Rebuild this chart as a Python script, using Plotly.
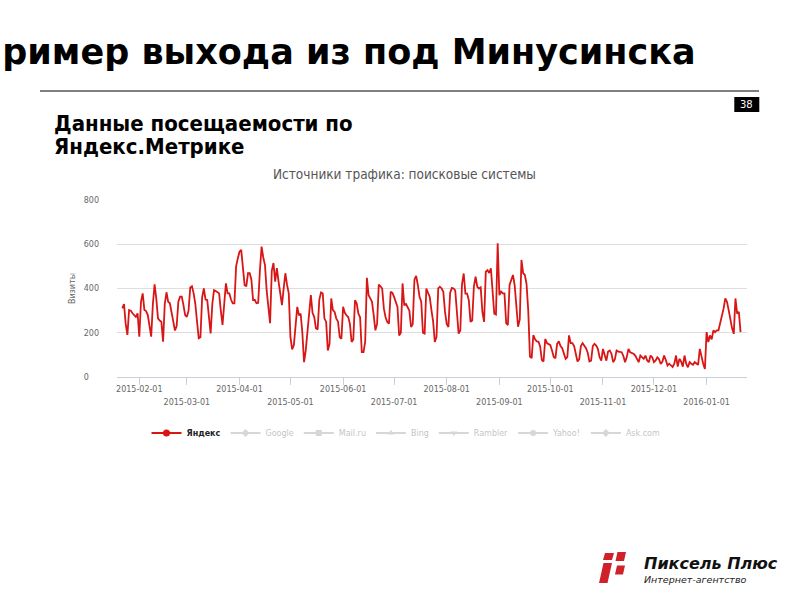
import pandas as pd
import plotly.graph_objects as go

# ---------------- data ----------------
START_DATE = "2015-01-22"
# daily "Яндекс" visits, 2015-01-22 .. 2016-01-21
YANDEX_VISITS = [
    310, 330, 240, 190,
    303, 300, 288, 280, 272, 288, 182,
    340, 378, 303, 298, 280, 230, 182,
    330, 419, 355, 265, 255, 250, 160,
    330, 383, 340, 333, 290, 235, 210,
    230, 340, 363, 363, 325, 280, 272,
    300, 405, 410, 378, 330, 250, 175,
    180, 360, 400, 350, 348, 280, 197,
    330, 393, 389, 385, 378, 300, 235,
    330, 423, 378, 378, 350, 333, 333,
    500, 536, 566, 575, 500, 416, 410,
    469, 469, 440, 348, 348, 333, 335,
    480, 589, 540, 506, 390, 300, 243,
    480, 515, 431, 492, 431, 371, 325,
    400, 469, 416, 378, 180, 125, 144,
    220, 317, 279, 286, 200, 67, 120,
    200, 300, 370, 290, 271, 220, 215,
    350, 382, 377, 264, 250, 120, 150,
    355, 302, 294, 264, 250, 180, 173,
    317, 290, 279, 271, 240, 158, 170,
    347, 332, 286, 270, 112, 112, 160,
    448, 370, 355, 340, 280, 211, 240,
    418, 410, 400, 309, 270, 249, 241,
    385, 380, 362, 340, 317, 188, 200,
    423, 324, 330, 317, 300, 226, 240,
    440, 457, 415, 362, 340, 200, 196,
    400, 380, 362, 302, 250, 158, 181,
    400, 408, 400, 385, 294, 240, 226,
    380, 403, 400, 392, 294, 196, 210,
    420, 468, 377, 377, 347, 249, 255,
    410, 453, 408, 400, 405, 294, 249,
    476, 483, 470, 491, 385, 286, 282,
    604, 370, 386, 378, 378, 243, 235,
    416, 440, 461, 415, 330, 227, 260,
    529, 469, 461, 420, 300, 92, 85,
    190, 170, 161, 160, 138, 77, 70,
    172, 153, 150, 144, 120, 91, 85,
    150, 161, 140, 130, 110, 82, 90,
    188, 153, 153, 140, 108, 70, 80,
    140, 153, 144, 130, 110, 70, 74,
    140, 150, 142, 127, 90, 74, 127,
    100, 74, 115, 120, 105, 67, 80,
    120, 115, 112, 112, 95, 67, 90,
    127, 112, 110, 105, 97, 85, 67,
    97, 90, 82, 97, 75, 67, 97,
    89, 67, 75, 89, 80, 59, 70,
    97, 77, 52, 60, 52, 45, 60,
    97, 47, 82, 70, 47, 97, 60,
    44, 67, 60, 55, 67, 60, 55,
    127, 89, 60, 36, 203, 158, 188,
    170, 211, 203, 211, 211, 240, 280,
    309, 355, 340, 302, 256, 220, 195,
    355, 286, 294, 203,
]
DATES = pd.date_range(START_DATE, periods=len(YANDEX_VISITS), freq="D")

TICK_DATES = ["2015-02-01", "2015-03-01", "2015-04-01", "2015-05-01", "2015-06-01",
              "2015-07-01", "2015-08-01", "2015-09-01", "2015-10-01", "2015-11-01",
              "2015-12-01", "2016-01-01"]
TICK_LABELS = ["2015-02-01", "2015-03-01", "2015-04-01", "2015-05-01", "2015-06-01",
               "2015-07-01", "2015-08-01", "2015-09-01", "2015-10-01", "2015-11-01",
               "2015-12-01", "2016-01-01"]
Y_TICKS = [0, 200, 400, 600, 800]
Y_LABELS = ["0\u2007\u2007", "200", "400", "600", "800"]

LEGEND_NAMES = ["Яндекс", "Google", "Mail.ru", "Bing", "Rambler", "Yahoo!", "Ask.com"]
LEGEND_SYMBOLS = ["circle", "diamond", "square", "triangle-up", "triangle-down", "circle", "diamond"]

X_RANGE = ["2015-01-18 21:00", "2016-01-24 19:00"]

# ---------------- layout helpers (page pixels -> paper) ----------------
L, R, T, B = 117, 53, 200, 223
W, H = 800, 600
PW, PH = W - L - R, H - T - B


def px(x):
    return (x - L) / PW


def py(y):
    return (H - B - y) / PH


RED = "#d81616"
AX = "#c8d0dc"
TXT = "#666666"

fig = go.Figure()
fig.add_trace(go.Scatter(x=DATES, y=YANDEX_VISITS, mode="lines",
                         line=dict(color=RED, width=1.8), showlegend=False,
                         hoverinfo="skip"))

for i, (name, sym) in enumerate(zip(LEGEND_NAMES, LEGEND_SYMBOLS)):
    if i == 0:
        fig.add_trace(go.Scatter(x=[None], y=[None], mode="lines+markers",
                                 name="<b><span style='color:#222'>" + name + "</span></b>",
                                 line=dict(color=RED, width=2),
                                 marker=dict(symbol=sym, size=7, color=RED)))
    else:
        fig.add_trace(go.Scatter(x=[None], y=[None], mode="lines+markers", name=name,
                                 visible="legendonly",
                                 line=dict(color="#b0b0b0", width=2),
                                 marker=dict(symbol=sym, size=6, color="#b0b0b0")))

lower_vals = TICK_DATES[1::2]
lower_text = TICK_LABELS[1::2]

tickfont = dict(family="DejaVu Sans", size=8, color=TXT)

fig.update_layout(
    width=W, height=H,
    margin=dict(l=L, r=R, t=T, b=B),
    paper_bgcolor="white", plot_bgcolor="white",
    font=dict(family="DejaVu Sans", color=TXT),
    xaxis=dict(type="date", range=X_RANGE, tickmode="array",
               tickvals=TICK_DATES,
               ticktext=[t if i % 2 == 0 else "" for i, t in enumerate(TICK_LABELS)],
               ticks="outside", ticklen=7, tickcolor=AX, tickwidth=1,
               showline=True, linecolor=AX, linewidth=1,
               showgrid=False, zeroline=False, tickfont=tickfont,
               ticklabelstandoff=-3),
    xaxis2=dict(type="date", range=X_RANGE, overlaying="x", anchor="y", side="bottom",
                tickmode="array", tickvals=lower_vals, ticktext=lower_text,
                ticks="", showline=False, showgrid=False, zeroline=False,
                ticklabelstandoff=19, tickfont=tickfont),
    yaxis=dict(range=[0, 800], tickmode="array", tickvals=Y_TICKS, ticktext=Y_LABELS,
               ticks="", showgrid=True, gridcolor="#dedede", gridwidth=1,
               zeroline=False, showline=False, ticklabelstandoff=17,
               tickfont=tickfont,
               title=dict(text="Визиты", font=dict(family="DejaVu Sans", size=8, color=TXT),
                          standoff=6)),
    legend=dict(orientation="h", x=px(406), xanchor="center", y=py(433), yanchor="middle",
                font=dict(family="DejaVu Sans", size=8, color="#8a8a8a"),
                itemwidth=30, bgcolor="rgba(0,0,0,0)", traceorder="normal"),
    showlegend=True,
)

# helper trace so that the second (label-only) x axis renders
fig.add_trace(go.Scatter(x=[None], y=[None], xaxis="x2", yaxis="y", showlegend=False,
                         hoverinfo="skip"))

ann = []
ann.append(dict(text="<b>Пример выхода из под Минусинска</b>", x=px(698), y=py(52),
                xanchor="right", yanchor="middle", showarrow=False,
                font=dict(family="DejaVu Sans", size=35, color="#000000")))
ann.append(dict(text="<b>Данные посещаемости по</b>", x=px(52), y=py(123.5),
                xanchor="left", yanchor="middle", showarrow=False,
                font=dict(family="DejaVu Sans Condensed", size=22, color="#000000")))
ann.append(dict(text="<b>Яндекс.Метрике</b>", x=px(52), y=py(146.5),
                xanchor="left", yanchor="middle", showarrow=False,
                font=dict(family="DejaVu Sans Condensed", size=22, color="#000000")))
ann.append(dict(text="Источники трафика: поисковые системы", x=px(404), y=py(174),
                xanchor="center", yanchor="middle", showarrow=False,
                font=dict(family="DejaVu Sans Condensed", size=13.5, color="#555555")))
ann.append(dict(text="38", x=px(746.8), y=py(104.5), xanchor="center", yanchor="middle",
                showarrow=False, font=dict(family="DejaVu Sans", size=10, color="#ffffff")))
ann.append(dict(text="Пиксель Плюс", x=px(642), y=py(563), xanchor="left", yanchor="middle",
                showarrow=False,
                font=dict(family="DejaVu Sans", size=16, color="#111111",
                          weight="bold", style="italic")))
ann.append(dict(text="Интернет-агентство", x=px(642), y=py(579), xanchor="left",
                yanchor="middle", showarrow=False,
                font=dict(family="DejaVu Sans", size=9.5, color="#222222", style="italic")))
for a in ann:
    a["xref"] = "paper"
    a["yref"] = "paper"
fig.update_layout(annotations=ann)


def poly(points):
    return "M " + " L ".join(f"{px(x):.5f},{py(y):.5f}" for x, y in points) + " Z"


LOGO_RED = "#d0202a"
shapes = [
    dict(type="line", xref="paper", yref="paper", x0=px(40), x1=px(759), y0=py(91), y1=py(91),
         line=dict(color="#000000", width=1.2)),
    dict(type="rect", xref="paper", yref="paper", x0=px(734.3), x1=px(759.3),
         y0=py(112), y1=py(97), fillcolor="#000000", line=dict(width=0)),
    dict(type="path", xref="paper", yref="paper",
         path=poly([(605, 553), (614, 553), (612, 560), (603, 560)]),
         fillcolor=LOGO_RED, line=dict(width=0)),
    dict(type="path", xref="paper", yref="paper",
         path=poly([(617.5, 552), (626, 552), (624, 561), (615.5, 561)]),
         fillcolor=LOGO_RED, line=dict(width=0)),
    dict(type="path", xref="paper", yref="paper",
         path=poly([(603.5, 563), (612, 563), (607.5, 583), (599, 583)]),
         fillcolor=LOGO_RED, line=dict(width=0)),
    dict(type="path", xref="paper", yref="paper",
         path=poly([(617, 565.5), (625, 565.5), (623, 574.5), (615, 574.5)]),
         fillcolor=LOGO_RED, line=dict(width=0)),
]
fig.update_layout(shapes=shapes)

fig.write_html("out.html",
               config={"displayModeBar": False},
               post_script="document.body.style.margin='0';document.body.style.overflow='hidden';")
